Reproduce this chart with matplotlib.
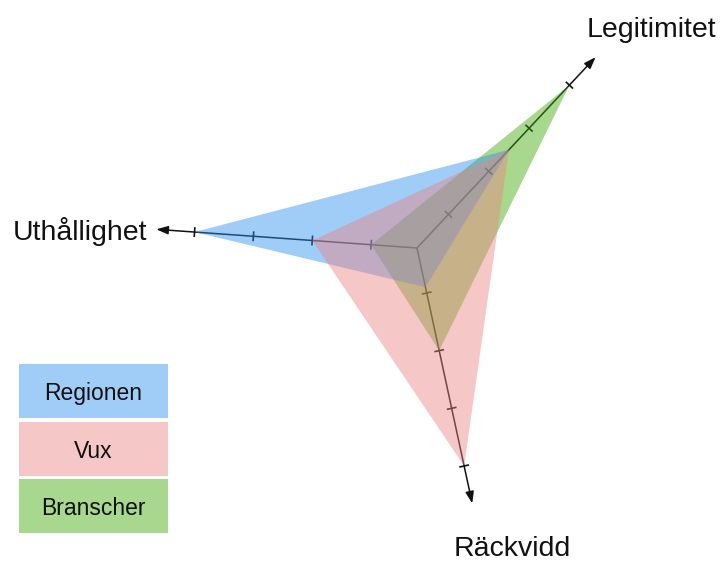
import numpy as np
import matplotlib
matplotlib.use("Agg")
import matplotlib.pyplot as plt
from matplotlib.patches import Polygon, Rectangle

plt.rcParams['font.family'] = ['Liberation Sans', 'DejaVu Sans']

# data
axis_labels = ["Legitimitet", "Uthållighet", "Räckvidd"]
series_names = ["Regionen", "Vux", "Branscher"]
regionen = [2.5, 4, 0.9]
vux = [2.5, 2, 4]
branscher = [4, 1, 2]
ticks = [1, 2, 3, 4]
axis_end = 4.65

# style
angles = np.radians([46.9, 175.9, -77.8])
offset = 0.22          # value at the centre point
alpha = 0.45
colors = {"Regionen": "#2c90ef", "Vux": "#eb8383", "Branscher": "#3ea806"}
series = {"Regionen": regionen, "Vux": vux, "Branscher": branscher}

def punkt(v, a):
    r = v - offset
    return r * np.cos(a), r * np.sin(a)

fig = plt.figure(figsize=(7.2, 5.63), dpi=100)
ax = fig.add_axes([0, 0, 1, 1])
ax.set_xlim(-417 / 59, (720 - 417) / 59)
ax.set_ylim(-(563 - 248) / 59, 248 / 59)
ax.set_aspect("equal")
ax.axis("off")

# axes with arrows and ticks
for a in angles:
    x1, y1 = punkt(axis_end, a)
    x0, y0 = punkt(offset, a)
    ax.annotate("", xy=(x1, y1), xytext=(x0, y0),
                arrowprops=dict(arrowstyle="-|>,head_length=0.7,head_width=0.25",
                                color="#111111", lw=1.1, shrinkA=0, shrinkB=0),
                zorder=1)
    for t in ticks:
        tx, ty = punkt(t, a)
        dx, dy = -np.sin(a) * 0.07, np.cos(a) * 0.07
        ax.plot([tx - dx, tx + dx], [ty - dy, ty + dy], color="#111111", lw=1.2, zorder=1)

# polygons, green at the bottom, pink on top
for namn in ["Branscher", "Regionen", "Vux"]:
    pts = [punkt(v, a) for v, a in zip(series[namn], angles)]
    ax.add_patch(Polygon(pts, closed=True, facecolor=colors[namn], alpha=alpha,
                         edgecolor="none", zorder=2))

# axis labels
ax.text((587 - 417) / 59, (248 - 37) / 59, axis_labels[0], fontsize=20.5,
        ha="left", va="baseline", color="#111111")
ax.text((13 - 417) / 59, (248 - 240) / 59, axis_labels[1], fontsize=20.5,
        ha="left", va="baseline", color="#111111")
ax.text((454 - 417) / 59, (248 - 556) / 59, axis_labels[2], fontsize=20.5,
        ha="left", va="baseline", color="#111111")

# legend boxes
box_tops = [364, 422, 479]
for namn, top in zip(series_names, box_tops):
    x0 = 19 / 720
    y0 = 1 - (top + 54) / 563
    ax.add_patch(Rectangle((x0, y0), 149 / 720, 54 / 563, transform=ax.transAxes,
                           facecolor=colors[namn], alpha=alpha, edgecolor="none"))
    ax.text(x0 + 149 / 720 / 2, 1 - (top + 36) / 563, namn, transform=ax.transAxes,
            fontsize=16.5, ha="center", va="baseline", color="#111111")

fig.savefig("out.png", dpi=100)
